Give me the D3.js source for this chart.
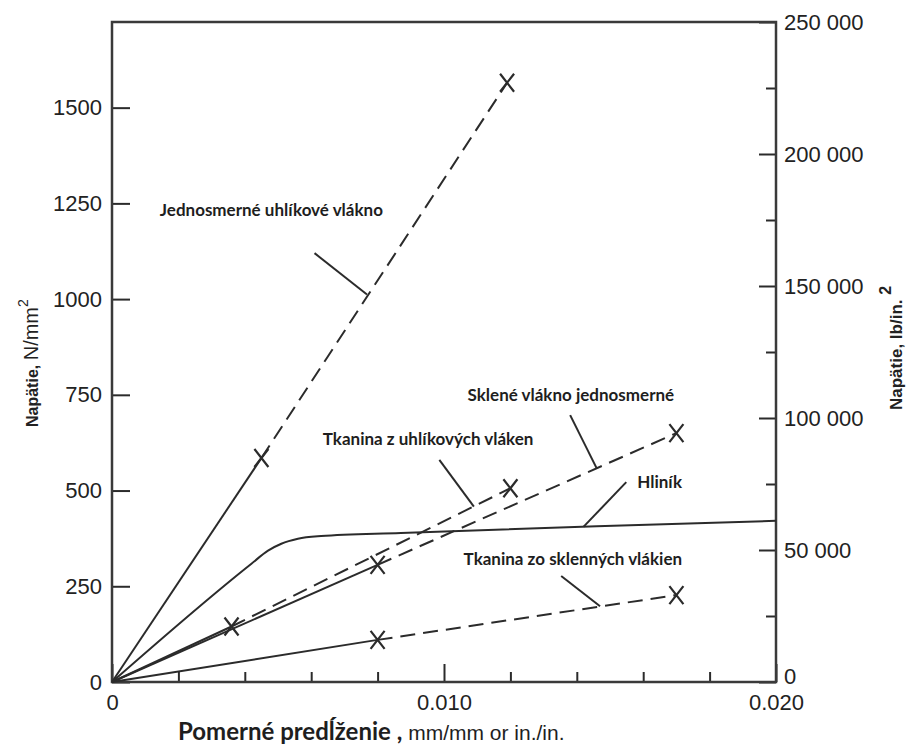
<!DOCTYPE html>
<html>
<head>
<meta charset="utf-8">
<script src="https://cdn.jsdelivr.net/npm/d3@7"></script>
<style>
  body { margin: 0; background: #fff; }
  svg { display: block; }
</style>
</head>
<body>
<div id="chart"></div>
<script>
// strain in mm/mm, stress in N/mm2 (right axis is the same stress in lb/in2)
const strainLabelTicks = [0, 0.010, 0.020];
const strainMinorTicks = [0.002, 0.004, 0.006, 0.008, 0.012, 0.014, 0.016, 0.018];
const stressTicks = [0, 250, 500, 750, 1000, 1250, 1500];
const psiLabelTicks = [0, 50000, 100000, 150000, 200000, 250000];
const psiMinorTicks = [25000, 75000, 125000, 175000, 225000];

// each fibre curve: origin, first X (end of solid part), last X (end of dashed part)
const carbonUniStrain = [0, 0.0045, 0.0119];
const carbonUniStress = [0, 585, 1565];
const glassUniStrain = [0, 0.0080, 0.0170];
const glassUniStress = [0, 306, 650];
const carbonFabricStrain = [0, 0.0036, 0.0120];
const carbonFabricStress = [0, 145, 506];
const glassFabricStrain = [0, 0.0080, 0.0170];
const glassFabricStress = [0, 110, 227];

const aluStrain = [0, 0.0042, 0.0047, 0.0051, 0.0056, 0.0063, 0.0087, 0.0146, 0.0200];
const aluStress = [0, 309, 343, 361, 374, 381, 389, 407, 421];

// labels with leader lines, anchored in data units
const labelText = ["Jednosmerné uhlíkové vlákno", "Sklené vlákno jednosmerné", "Tkanina z uhlíkových vláken", "Hliník", "Tkanina zo sklenných vlákien"];
const labelAt = [[0.00144, 1217], [0.01071, 734], [0.00635, 619], [0.01582, 507], [0.01059, 306]];
const leaderFrom = [[0.0061, 1120], [0.0138, 697], [0.00986, 580], [0.01549, 522], [0.01353, 277]];
const leaderTo = [[0.00768, 1012], [0.0146, 558], [0.0109, 458], [0.0142, 405], [0.0147, 198]];

const W = 907, H = 751;
const plot = { left: 112, right: 776, top: 22, bottom: 682 };
const ink = "#2b2b2b";

const svg = d3.select("#chart").append("svg")
    .attr("width", W).attr("height", H)
    .style("font-family", "'Liberation Sans', Arial, sans-serif");

const x = d3.scaleLinear().domain([0, 0.020]).range([plot.left, plot.right]);
const y = d3.scaleLinear().domain([0, 250000 / 145.038]).range([plot.bottom, plot.top]);
const yPsi = d3.scaleLinear().domain([0, 250000]).range([plot.bottom, plot.top]);

// axes, ticks pointing into the plot
const styleAxis = (g) => {
    g.select(".domain").remove();
    g.selectAll(".tick line").attr("stroke", ink).attr("stroke-width", 2);
    g.selectAll(".tick text").attr("fill", "#222").style("font-size", "22px");
};

svg.append("g")
    .attr("transform", `translate(${plot.left},0)`)
    .call(d3.axisLeft(y).tickValues(stressTicks).tickSizeInner(-18).tickSizeOuter(0).tickPadding(10)
        .tickFormat(d3.format("d")))
    .call(styleAxis);

const rightAxis = svg.append("g")
    .attr("transform", `translate(${plot.right},0)`)
    .call(d3.axisRight(yPsi).tickValues(psiLabelTicks).tickSizeInner(-17).tickSizeOuter(0).tickPadding(8)
        .tickFormat(v => d3.format(",")(v).replace(/,/g, " ")))
    .call(styleAxis);
rightAxis.selectAll(".tick text").filter(v => v === 0).attr("dy", "0.08em");

svg.append("g")
    .attr("transform", `translate(${plot.right},0)`)
    .call(d3.axisRight(yPsi).tickValues(psiMinorTicks).tickSizeInner(-10).tickSizeOuter(0).tickFormat(""))
    .call(styleAxis);

svg.append("g")
    .attr("transform", `translate(0,${plot.bottom})`)
    .call(d3.axisBottom(x).tickValues(strainLabelTicks).tickSizeInner(-18).tickSizeOuter(0).tickPadding(12)
        .tickFormat(v => v === 0 ? "0" : d3.format(".3f")(v)))
    .call(styleAxis);

svg.append("g")
    .attr("transform", `translate(0,${plot.bottom})`)
    .call(d3.axisBottom(x).tickValues(strainMinorTicks).tickSizeInner(-10).tickSizeOuter(0).tickFormat(""))
    .call(styleAxis);

svg.append("rect")
    .attr("x", plot.left).attr("y", plot.top)
    .attr("width", plot.right - plot.left).attr("height", plot.bottom - plot.top)
    .attr("fill", "none").attr("stroke", "#3a3a3a").attr("stroke-width", 2.5);

// curves
const line = d3.line().x(d => x(d[0])).y(d => y(d[1]));
const fibres = [
    [carbonUniStrain, carbonUniStress],
    [glassUniStrain, glassUniStress],
    [carbonFabricStrain, carbonFabricStress],
    [glassFabricStrain, glassFabricStress]
].map(([s, t]) => s.map((v, i) => [v, t[i]]));

const curves = svg.append("g").attr("fill", "none").attr("stroke", ink).attr("stroke-width", 2);

fibres.forEach(pts => {
    curves.append("path").attr("d", line(pts.slice(0, 2)));
    curves.append("path").attr("d", line(pts.slice(1, 3))).attr("stroke-dasharray", "15,8");
});

const alu = aluStrain.map((v, i) => [v, aluStress[i]]);
curves.append("path").attr("d", d3.line().x(d => x(d[0])).y(d => y(d[1])).curve(d3.curveMonotoneX)(alu));

// X markers at fracture points
const markers = fibres.flatMap(pts => pts.slice(1));
svg.append("g").selectAll("path.mark")
    .data(markers)
    .join("path")
    .attr("class", "mark")
    .attr("transform", d => `translate(${x(d[0])},${y(d[1])})`)
    .attr("d", "M-7,-9L7,9M7,-9L-7,9")
    .attr("fill", "none").attr("stroke", ink).attr("stroke-width", 2.2);

// leaders + labels
const notes = svg.append("g");
labelText.forEach((t, i) => {
    notes.append("line")
        .attr("x1", x(leaderFrom[i][0])).attr("y1", y(leaderFrom[i][1]))
        .attr("x2", x(leaderTo[i][0])).attr("y2", y(leaderTo[i][1]))
        .attr("stroke", ink).attr("stroke-width", 2);
    notes.append("text")
        .attr("x", x(labelAt[i][0])).attr("y", y(labelAt[i][1]))
        .attr("fill", "#1e1e1e")
        .style("font-family", "Lato, 'Open Sans', sans-serif")
        .style("font-weight", "bold")
        .style("font-size", "17px")
        .text(t);
});

// axis titles
const leftTitle = svg.append("text")
    .attr("transform", "translate(38,427) rotate(-90)")
    .attr("fill", "#222");
leftTitle.append("tspan").style("font-size", "16px").style("font-weight", "bold").text("Napätie, ");
leftTitle.append("tspan").style("font-size", "20px").text("N/mm");
leftTitle.append("tspan").style("font-size", "14px").attr("dy", -10).text("2");

const rightTitle = svg.append("text")
    .attr("transform", "translate(902,410) rotate(-90)")
    .attr("fill", "#222");
rightTitle.append("tspan").style("font-size", "17px").style("font-weight", "bold").text("Napätie, lb/in. ");
rightTitle.append("tspan").style("font-size", "16px").style("font-weight", "bold").attr("dy", -11).text("2");

const bottomTitle = svg.append("text")
    .attr("x", 178).attr("y", 740)
    .attr("fill", "#1e1e1e");
bottomTitle.append("tspan")
    .style("font-family", "Lato, 'Open Sans', sans-serif")
    .style("font-weight", "bold").style("font-size", "24px")
    .text("Pomerné predĺženie , ");
bottomTitle.append("tspan").style("font-size", "21px").text("mm/mm or in./in.");
</script>
</body>
</html>
